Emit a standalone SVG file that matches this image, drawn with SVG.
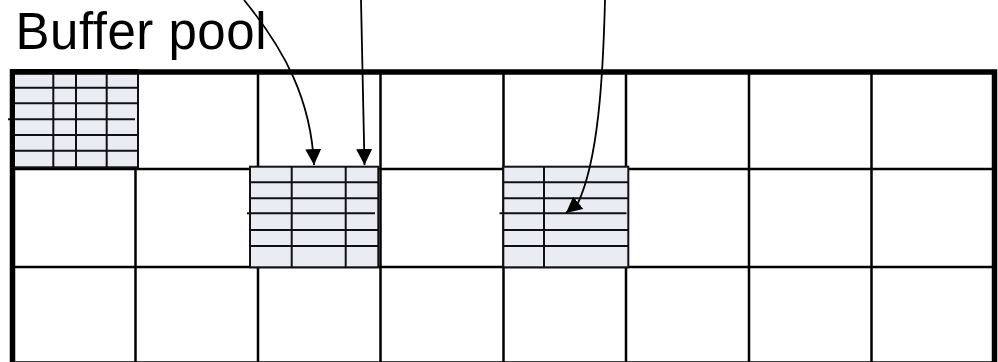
<svg xmlns="http://www.w3.org/2000/svg" width="998" height="362" viewBox="0 0 998 362">
<style>
.grid{stroke:#000;stroke-width:2.5;fill:none}
.frame{stroke:#000;stroke-width:5.5;fill:none}
.tile{fill:#E9ECF2;stroke:#111;stroke-width:2}
.tl{stroke:#111;stroke-width:2;fill:none}
.arrow{stroke:#000;stroke-width:1.8;fill:none;marker-end:url(#ah)}
.label{font-family:"Liberation Sans",Arial,sans-serif;font-size:51px;fill:#000}
</style>
<defs>
<marker id="ah" markerUnits="userSpaceOnUse" markerWidth="16" markerHeight="16" viewBox="0 0 15 15" refX="15" refY="7.5" orient="auto">
<path d="M0,0 L15,7.5 L0,15 z" fill="#000"/>
</marker>
</defs>
<rect width="998" height="362" fill="#fff"/>
<g id="buffer-pool-grid">
<path class="grid" d="M135.5,72V362M258,72V362M380.5,72V362M503.5,72V362M626,72V362M749,72V362M871.5,72V362M12.5,169H994.5M12.5,267H994.5"/>
<rect class="frame" x="12.5" y="72" width="982" height="292"/>
</g>
<g id="page-1">
<rect class="tile" x="11" y="70" width="127" height="97.3"/>
<path class="tl" d="M11,87.7H138M11,103.3H138M8,119.3H135M11,135H138M11,150.7H138M53.3,70V167.3M76,70V167.3M106.7,70V167.3"/>
<path d="M10,72H138" stroke="#000" stroke-width="5.5"/>
<path d="M12.5,70V167.3" stroke="#000" stroke-width="5"/>
</g>
<g id="page-2">
<rect class="tile" x="250" y="166.7" width="128.3" height="100.6"/>
<path class="tl" d="M250,182.3H378.3M250,198.3H378.3M247,213.3H375M250,230H378.3M250,246H378.3M291.7,166.7V267.3M345.7,166.7V267.3"/>
</g>
<g id="page-3">
<rect class="tile" x="503.3" y="166.7" width="125" height="100.6"/>
<path class="tl" d="M503.3,182.3H628.3M503.3,198.3H628.3M499.5,213.3H626.5M503.3,230H628.3M503.3,246H628.3M544,166.7V267.3"/>
</g>
<text id="label" class="label" x="15.5" y="48.5" textLength="251" lengthAdjust="spacing">Buffer pool</text>
<g id="connectors">
<path class="arrow" d="M244,0 C285,50 311,100 314,165"/>
<path class="arrow" d="M361,0 L364.5,165"/>
<path class="arrow" d="M605,0 C603,80 598,160 578,203 L566,213"/>
</g>
</svg>
